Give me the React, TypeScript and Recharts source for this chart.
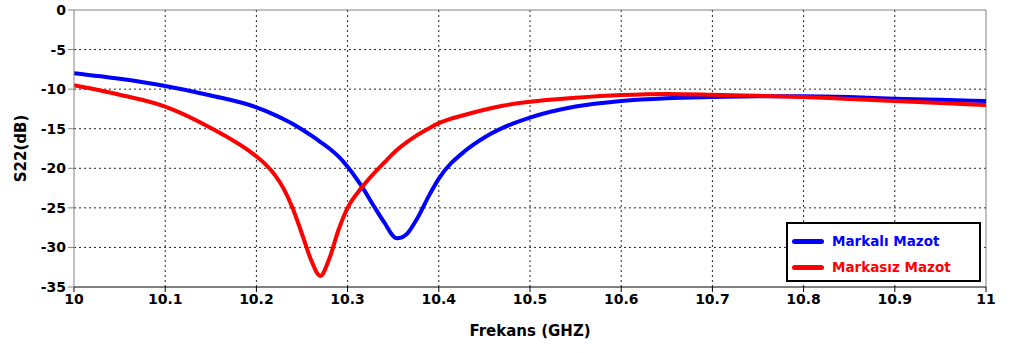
import * as React from 'react';
import {
  CartesianGrid,
  Line,
  LineChart,
  ReferenceLine,
  XAxis,
  YAxis,
} from 'recharts';

// Frekans noktaları (GHz)
const frekans = [
  10.0, 10.05, 10.1, 10.15, 10.2, 10.21, 10.22, 10.23, 10.24, 10.25, 10.26, 10.27,
  10.28, 10.29, 10.3, 10.315, 10.33, 10.34, 10.354, 10.365, 10.375, 10.39, 10.4,
  10.43, 10.45, 10.47, 10.5, 10.55, 10.6, 10.65, 10.7, 10.75, 10.8, 10.85, 10.9,
  10.95, 11.0,
];

// S22 (dB) – markalı mazot
const markali = [
  -8.0, -8.7, -9.6, -10.8, -12.3, -12.75, -13.25, -13.8, -14.4, -15.1, -15.85, -16.65,
  -17.5, -18.5, -19.8, -22.2, -25.0, -26.8, -28.85, -28.3, -26.6, -23.3, -21.3,
  -17.7, -16.1, -14.9, -13.6, -12.2, -11.5, -11.15, -11.0, -10.9, -10.9, -11.0,
  -11.2, -11.35, -11.5,
];

// S22 (dB) – markasız mazot
const markasiz = [
  -9.5, -10.7, -12.2, -14.9, -18.5, -19.5, -20.8, -22.6, -25.1, -28.3, -31.6, -33.6,
  -31.4, -27.8, -25.0, -22.5, -20.5, -19.3, -17.7, -16.7, -15.9, -14.9, -14.3,
  -13.2, -12.6, -12.1, -11.6, -11.1, -10.75, -10.6, -10.7, -10.85, -11.0, -11.25,
  -11.5, -11.75, -12.0,
];

const xTicks = [10, 10.1, 10.2, 10.3, 10.4, 10.5, 10.6, 10.7, 10.8, 10.9, 11];
const yTicks = [0, -5, -10, -15, -20, -25, -30, -35];

const seriler = [
  { key: 'markali', ad: 'Markalı Mazot', renk: '#0000ff' },
  { key: 'markasiz', ad: 'Markasız Mazot', renk: '#ff0000' },
];

const data = frekans.map((f, i) => ({ f, markali: markali[i], markasiz: markasiz[i] }));

const FONT = "Tahoma, 'DejaVu Sans', sans-serif";

function Lejant() {
  return (
    <div
      style={{
        position: 'absolute',
        left: 786,
        top: 222,
        width: 195,
        height: 60,
        border: '2px solid #000',
        background: '#fff',
        fontFamily: FONT,
        fontWeight: 'bold',
        fontSize: 13.5,
        paddingTop: 4,
        boxSizing: 'border-box',
      }}
    >
      {seriler.map((s) => (
        <div key={s.key} style={{ display: 'flex', alignItems: 'center', height: 26 }}>
          <span
            style={{
              display: 'inline-block',
              width: 32,
              height: 5,
              borderRadius: 3,
              background: s.renk,
              marginLeft: 4,
              marginRight: 8,
            }}
          />
          <span style={{ color: s.renk }}>{s.ad}</span>
        </div>
      ))}
    </div>
  );
}

export default function App() {
  return (
    <div style={{ position: 'absolute', left: 0, top: 0, width: 1010, height: 353, background: '#fff' }}>
      <LineChart
        width={1010}
        height={353}
        data={data}
        margin={{ top: 10, right: 24, left: 0, bottom: 0 }}
      >
        <CartesianGrid
          stroke="#222"
          strokeDasharray="2 3"
          horizontalValues={[-5, -10, -15, -20, -25, -30]}
          verticalValues={[10.1, 10.2, 10.3, 10.4, 10.5, 10.6, 10.7, 10.8, 10.9]}
        />
        <XAxis
          dataKey="f"
          type="number"
          domain={[10, 11]}
          ticks={xTicks}
          tickFormatter={(v: number) => String(Math.round(v * 10) / 10)}
          height={66}
          stroke="#000"
          tick={{ fill: '#000', fontSize: 14, fontWeight: 'bold', fontFamily: FONT }}
          tickSize={5}
          label={{
            value: 'Frekans (GHZ)',
            position: 'center',
            dy: 11,
            fill: '#000',
            fontSize: 15,
            fontWeight: 'bold',
            fontFamily: FONT,
          }}
        />
        <YAxis
          type="number"
          domain={[-35, 0]}
          ticks={yTicks}
          width={74}
          stroke="#808080"
          tick={{ fill: '#000', fontSize: 14, fontWeight: 'bold', fontFamily: FONT }}
          tickSize={6}
          label={{
            value: 'S22(dB)',
            angle: -90,
            position: 'center',
            dx: -16,
            fill: '#000',
            fontSize: 15,
            fontWeight: 'bold',
            fontFamily: FONT,
          }}
        />
        <ReferenceLine y={0} stroke="#808080" />
        <ReferenceLine x={11} stroke="#808080" />
        {seriler.map((s) => (
          <Line
            key={s.key}
            type="monotone"
            dataKey={s.key}
            name={s.ad}
            stroke={s.renk}
            strokeWidth={4}
            dot={false}
            isAnimationActive={false}
          />
        ))}
      </LineChart>
      <Lejant />
    </div>
  );
}
